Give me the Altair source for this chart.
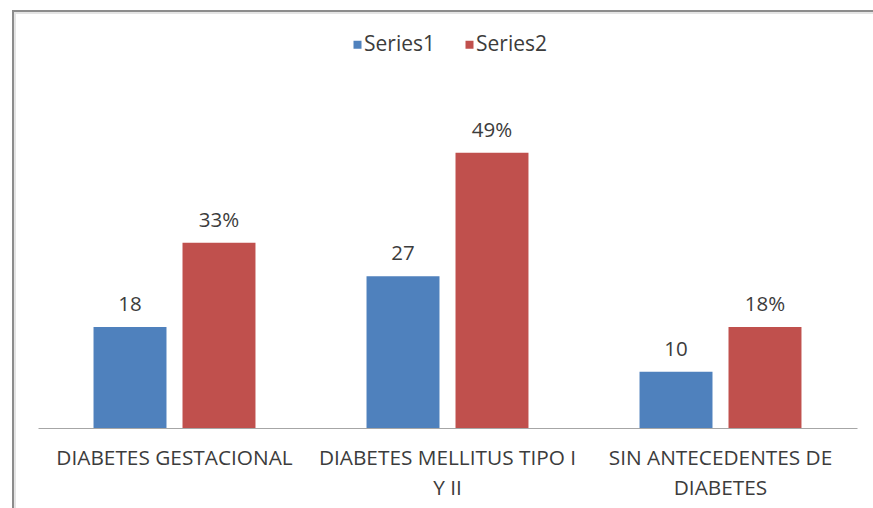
import altair as alt
import pandas as pd

# Category names (a "\n" marks where the axis label wraps)
categories = [
    "DIABETES GESTACIONAL",
    "DIABETES MELLITUS TIPO I\nY II",
    "SIN ANTECEDENTES DE\nDIABETES",
]
series_names = ["Series1", "Series2"]
series1 = [18, 27, 10]          # counts
series2 = [33, 49, 18]          # percentages
series_colors = ["#4F81BD", "#C0504D"]

rows = []
for cat, v in zip(categories, series1):
    rows.append({"cat": cat, "series": "Series1", "value": v, "label": f"{v}"})
for cat, v in zip(categories, series2):
    rows.append({"cat": cat, "series": "Series2", "value": v, "label": f"{v}%"})
df = pd.DataFrame(rows)

FONT = "Open Sans"
TEXT = "#3c3c3c"

x_enc = alt.X(
    "cat:N",
    sort=categories,
    scale=alt.Scale(paddingInner=0, paddingOuter=0),
    axis=alt.Axis(
        title=None,
        labelAngle=0,
        labelExpr="split(datum.label, '\\n')",
        labelFont=FONT,
        labelFontSize=20.8,
        labelColor=TEXT,
        labelLineHeight=30,
        labelBaseline="top",
        labelPadding=20,
        labelLimit=400,
        ticks=False,
        tickSize=0,
        domainColor="#a6a6a6",
        domainWidth=1,
    ),
)
xoff_enc = alt.XOffset(
    "series:N",
    sort=series_names,
    scale=alt.Scale(paddingInner=0.18, paddingOuter=0.624),
)
y_enc = alt.Y("value:Q", scale=alt.Scale(domain=[0, 60]), axis=None)

base = alt.Chart(df)

bars = base.mark_bar().encode(
    x=x_enc,
    xOffset=xoff_enc,
    y=y_enc,
    color=alt.Color(
        "series:N",
        sort=series_names,
        scale=alt.Scale(domain=series_names, range=series_colors),
        legend=alt.Legend(
            title=None,
            orient="none",
            direction="horizontal",
            legendX=309,
            legendY=-57,
            symbolType="square",
            symbolSize=64,
            symbolStrokeWidth=0,
            labelFont=FONT,
            labelFontSize=21,
            labelColor=TEXT,
            labelOffset={"expr": "-4"},
            columnPadding=24,
        ),
    ),
)

labels = base.mark_text(
    font=FONT, fontSize=20.5, color=TEXT, baseline="alphabetic", dy=-16
).encode(
    x=alt.X("cat:N", sort=categories),
    xOffset=alt.XOffset("series:N", sort=series_names),
    y=y_enc,
    text="label:N",
)

# Outer frame of the chart object (left and top edges)
frame_df = pd.DataFrame({"k": [0]})
frame = alt.Chart(frame_df).mark_rect(
    fill=None, stroke="#8c8c8c", strokeWidth=2
).encode(
    x=alt.value(-25), x2=alt.value(900), y=alt.value(-80), y2=alt.value(600)
)
shade = alt.Chart(frame_df).mark_rect(
    fill=None, stroke="#e4e4e4", strokeWidth=2
).encode(
    x=alt.value(-23), x2=alt.value(900), y=alt.value(-78), y2=alt.value(600)
)

chart = (
    alt.layer(shade, frame, bars, labels)
    .properties(
        width=819,
        height=337,
        autosize=alt.AutoSizeParams(type="none"),
        padding={"left": 38, "top": 91, "right": 16, "bottom": 80},
        background="white",
    )
    .configure_view(stroke=None)
)

chart.save("out.html", embed_options={"renderer": "svg", "actions": False})
